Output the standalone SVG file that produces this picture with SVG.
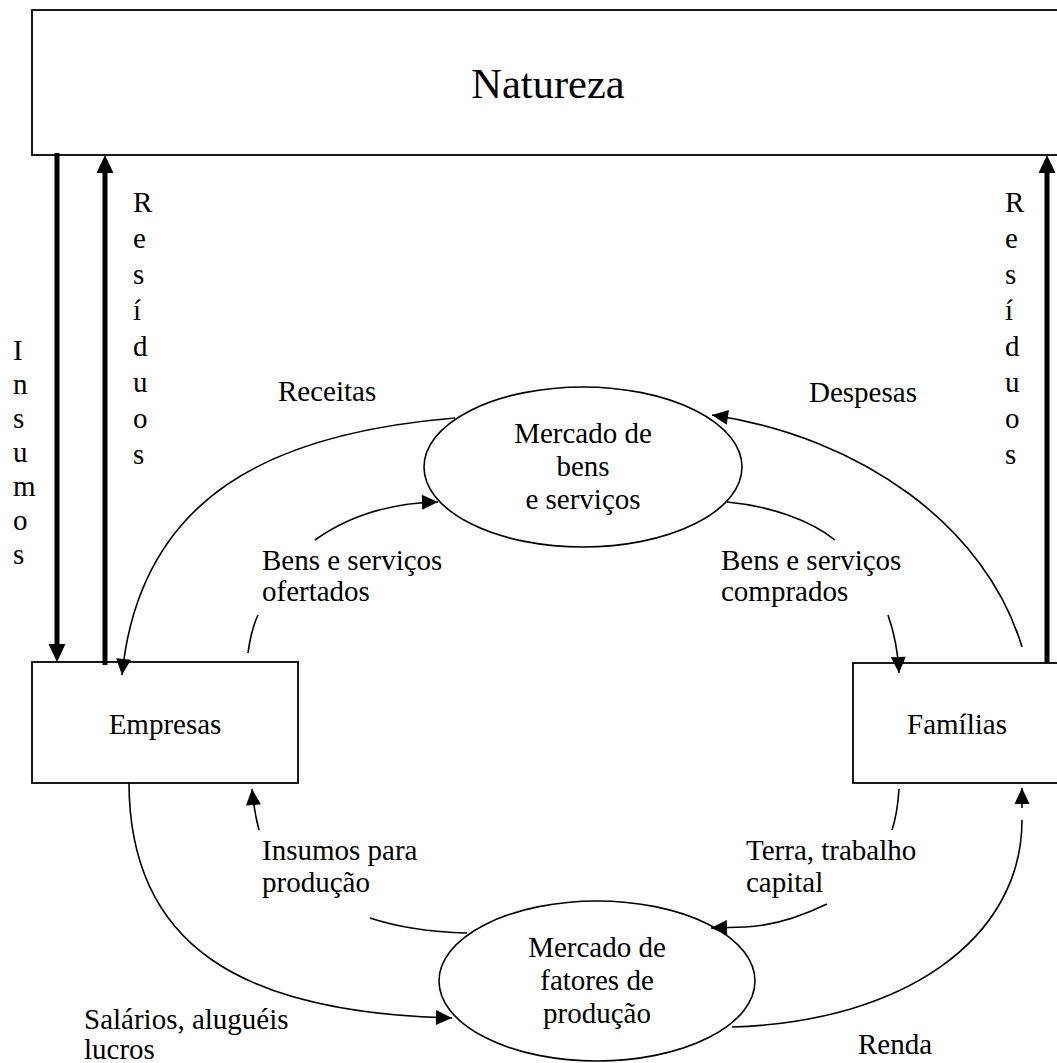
<svg xmlns="http://www.w3.org/2000/svg" width="1057" height="1063" viewBox="0 0 1057 1063">
<style>
.box{fill:#fff;stroke:#000;stroke-width:1.8}
.ell{fill:#fff;stroke:#000;stroke-width:1.6}
.t{font-family:"Liberation Serif","Times New Roman",serif;font-size:29px;fill:#000}
.big{font-size:42.5px}
.c{text-anchor:middle}
.thin{fill:none;stroke:#000;stroke-width:1.6}
.thick{fill:none;stroke:#000;stroke-width:5}
</style>
<defs>
<marker id="ah" markerUnits="userSpaceOnUse" markerWidth="17" markerHeight="15" refX="16" refY="7.5" orient="auto" overflow="visible">
<path d="M0,0 L16,7.5 L0,15 z" fill="#000"/>
</marker>
<marker id="ahk" markerUnits="userSpaceOnUse" markerWidth="19" markerHeight="17" refX="0" refY="8.5" orient="auto" overflow="visible">
<path d="M0,0 L18,8.5 L0,17 z" fill="#000"/>
</marker>
</defs>
<rect width="1057" height="1063" fill="#fff"/>

<g id="natureza">
<rect class="box" x="32" y="10" width="1040" height="145"/>
<text class="t big c" x="548" y="98">Natureza</text>
</g>

<g id="empresas">
<rect class="box" x="32" y="662" width="266" height="121"/>
<text class="t c" x="165" y="734">Empresas</text>
</g>

<g id="familias">
<rect class="box" x="853" y="663" width="215" height="120"/>
<text class="t c" x="957" y="734">Famílias</text>
</g>

<g id="mercado-bens">
<ellipse class="ell" cx="583" cy="467" rx="159" ry="80"/>
<text class="t c" x="583" y="443">Mercado de</text>
<text class="t c" x="583" y="476">bens</text>
<text class="t c" x="583" y="509">e serviços</text>
</g>

<g id="mercado-fatores">
<ellipse class="ell" cx="597" cy="981" rx="158" ry="80"/>
<text class="t c" x="597" y="957">Mercado de</text>
<text class="t c" x="597" y="990">fatores de</text>
<text class="t c" x="597" y="1023">produção</text>
</g>

<g id="connectors">
<path class="thick" d="M57,153 L57,644" marker-end="url(#ahk)"/>
<path class="thick" d="M105,665 L105,173" marker-end="url(#ahk)"/>
<path class="thick" d="M1047,663 L1047,173" marker-end="url(#ahk)"/>
<path class="thin" d="M455,418 C273,433 140,495 122,675" marker-end="url(#ah)"/>
<path class="thin" d="M1022,647 C986,527 862,437 712,415" marker-end="url(#ah)"/>
<path class="thin" d="M248,653 Q251,630 258,615"/>
<path class="thin" d="M315,540 C350,515 390,503 438,502" marker-end="url(#ah)"/>
<path class="thin" d="M727,502 C770,506 810,520 835,540"/>
<path class="thin" d="M888,615 C895,635 898,650 899,673" marker-end="url(#ah)"/>
<path class="thin" d="M467,933 C430,932 400,928 370,918"/>
<path class="thin" d="M259,830 C255,815 253,800 252,789" marker-end="url(#ah)"/>
<path class="thin" d="M129,782 C129,945 240,1013 452,1018" marker-end="url(#ah)"/>
<path class="thin" d="M899,789 C898,805 896,818 892,830"/>
<path class="thin" d="M827,904 C800,917 772,926 745,927 L711,928" marker-end="url(#ah)"/>
<path class="thin" d="M732,1027 C902,1022 1022,940 1022,820"/>
<path class="thin" d="M1022,808 L1022,788" marker-end="url(#ah)"/>
</g>

<g id="labels">
<text class="t" x="278" y="401">Receitas</text>
<text class="t" x="809" y="402">Despesas</text>
<text class="t" x="262" y="570">Bens e serviços</text>
<text class="t" x="262" y="601">ofertados</text>
<text class="t" x="721" y="570">Bens e serviços</text>
<text class="t" x="721" y="601">comprados</text>
<text class="t" x="262" y="860">Insumos para</text>
<text class="t" x="262" y="892">produção</text>
<text class="t" x="746" y="860">Terra, trabalho</text>
<text class="t" x="746" y="892">capital</text>
<text class="t" x="84" y="1029">Salários, aluguéis</text>
<text class="t" x="84" y="1059">lucros</text>
<text class="t" x="858" y="1054">Renda</text>
<text class="t" x="13"><tspan x="13" y="360">I</tspan><tspan x="13" y="394">n</tspan><tspan x="13" y="428">s</tspan><tspan x="13" y="462">u</tspan><tspan x="13" y="496">m</tspan><tspan x="13" y="530">o</tspan><tspan x="13" y="564">s</tspan></text>
<text class="t" x="133"><tspan x="133" y="212">R</tspan><tspan x="133" y="248">e</tspan><tspan x="133" y="284">s</tspan><tspan x="133" y="320">í</tspan><tspan x="133" y="356">d</tspan><tspan x="133" y="392">u</tspan><tspan x="133" y="428">o</tspan><tspan x="133" y="464">s</tspan></text>
<text class="t" x="1005"><tspan x="1005" y="212">R</tspan><tspan x="1005" y="248">e</tspan><tspan x="1005" y="284">s</tspan><tspan x="1005" y="320">í</tspan><tspan x="1005" y="356">d</tspan><tspan x="1005" y="392">u</tspan><tspan x="1005" y="428">o</tspan><tspan x="1005" y="464">s</tspan></text>
</g>
</svg>
